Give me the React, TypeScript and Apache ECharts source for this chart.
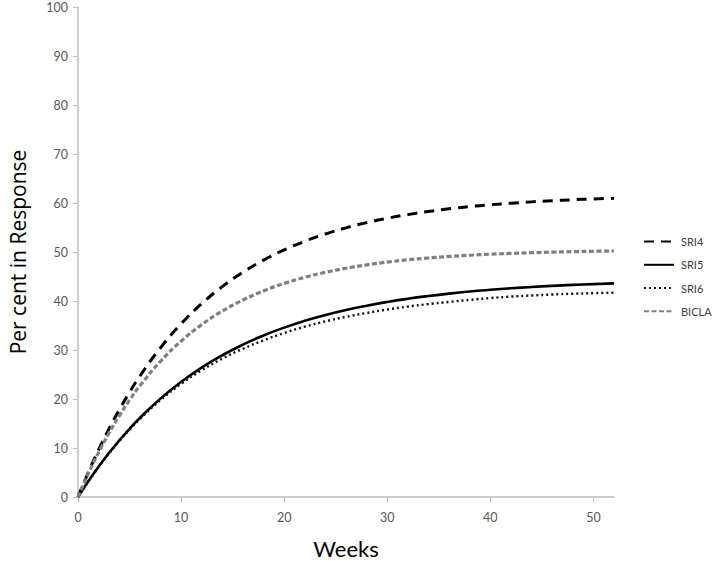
import React, { useEffect, useRef } from "react";
import * as echarts from "echarts";

const weeks = [0, 1, 2, 3, 4, 5, 6, 8, 10, 12, 14, 16, 18, 20, 22, 24, 26, 28, 30, 32, 34, 36, 38, 40, 42, 44, 46, 48, 50, 52];
const sri4 = [0, 5.03, 9.64, 13.89, 17.78, 21.36, 24.65, 30.44, 35.33, 39.45, 42.93, 45.86, 48.34, 50.43, 52.19, 53.68, 54.93, 55.99, 56.88, 57.63, 58.27, 58.81, 59.26, 59.64, 59.96, 60.23, 60.46, 60.66, 60.82, 60.96];
const sri5 = [0, 3.22, 6.2, 8.97, 11.53, 13.92, 16.13, 20.08, 23.48, 26.41, 28.93, 31.1, 32.96, 34.57, 35.96, 37.14, 38.17, 39.05, 39.81, 40.46, 41.02, 41.51, 41.93, 42.28, 42.59, 42.86, 43.09, 43.29, 43.45, 43.6];
const sri6 = [0, 3.15, 6.1, 8.85, 11.4, 13.75, 15.93, 19.78, 23.08, 25.86, 28.23, 30.25, 31.96, 33.47, 34.76, 35.84, 36.77, 37.55, 38.26, 38.86, 39.37, 39.81, 40.23, 40.6, 40.9, 41.12, 41.32, 41.48, 41.6, 41.7];
const bicla = [0, 4.78, 9.1, 13.02, 16.56, 19.77, 22.68, 27.69, 31.8, 35.17, 37.94, 40.2, 42.06, 43.58, 44.83, 45.85, 46.69, 47.37, 47.94, 48.4, 48.78, 49.09, 49.34, 49.55, 49.72, 49.86, 49.98, 50.07, 50.15, 50.21];
const xTicks = [0, 10, 20, 30, 40, 50];

const pairs = (vals: number[]) => weeks.map((w, i) => [w, vals[i]]);

export default function App() {
  const ref = useRef<HTMLDivElement>(null);
  useEffect(() => {
    if (!ref.current) return;
    const chart = echarts.init(ref.current, undefined, { renderer: "svg" });
    const font = "Lato, 'Open Sans', sans-serif";
    const axisColor = "#bfbfbf";
    const labelColor = "#595959";
    chart.setOption({
      animation: false,
      backgroundColor: "#ffffff",
      grid: { left: 78, right: 101, top: 7, bottom: 74, outerBoundsMode: "none", containLabel: false },
      legend: {
        orient: "vertical",
        left: 638,
        top: 231,
        itemWidth: 30,
        itemHeight: 14,
        itemGap: 12,
        itemStyle: { opacity: 0 },
        textStyle: { fontFamily: font, fontSize: 11, color: "#404040", padding: [0, 0, 0, 2] },
        data: ["SRI4", "SRI5", "SRI6", "BICLA"],
      },
      xAxis: {
        type: "value",
        min: 0,
        max: 52,
        interval: 10,
        name: "Weeks",
        nameLocation: "middle",
        nameGap: 40,
        nameTextStyle: { fontFamily: font, fontSize: 22, color: "#000" },
        axisLine: { show: true, lineStyle: { color: axisColor, width: 1.5 } },
        axisTick: { show: true, length: 5, lineStyle: { color: axisColor }, customValues: xTicks },
        axisLabel: { fontFamily: font, fontSize: 12.5, color: labelColor, margin: 14, customValues: xTicks },
        splitLine: { show: false },
      },
      yAxis: {
        type: "value",
        min: 0,
        max: 100,
        interval: 10,
        name: "Per cent in Response",
        nameLocation: "middle",
        nameGap: 50,
        nameRotate: 90,
        nameTextStyle: { fontFamily: "'Open Sans', sans-serif", fontSize: 21, color: "#000" },
        axisLine: { show: true, lineStyle: { color: axisColor, width: 1.5 } },
        axisTick: { show: true, length: 5, lineStyle: { color: axisColor } },
        axisLabel: { fontFamily: font, fontSize: 12.5, color: labelColor, margin: 10 },
        splitLine: { show: false },
      },
      series: [
        {
          name: "SRI4",
          type: "line",
          smooth: true,
          symbol: "none",
          data: pairs(sri4),
          lineStyle: { color: "#000", width: 3, type: [10, 7] },
          itemStyle: { color: "#000" },
        },
        {
          name: "SRI5",
          type: "line",
          smooth: true,
          symbol: "none",
          data: pairs(sri5),
          lineStyle: { color: "#000", width: 2.6, type: "solid" },
          itemStyle: { color: "#000" },
        },
        {
          name: "SRI6",
          type: "line",
          smooth: true,
          symbol: "none",
          data: pairs(sri6),
          lineStyle: { color: "#111", width: 2.4, type: [2, 3] },
          itemStyle: { color: "#111" },
        },
        {
          name: "BICLA",
          type: "line",
          smooth: true,
          symbol: "none",
          data: pairs(bicla),
          lineStyle: { color: "#808080", width: 3.2, type: [5, 2.5] },
          itemStyle: { color: "#808080" },
        },
      ],
    });
    return () => chart.dispose();
  }, []);
  return <div ref={ref} style={{ width: 715, height: 571, position: "absolute", left: 0, top: 0 }} />;
}
